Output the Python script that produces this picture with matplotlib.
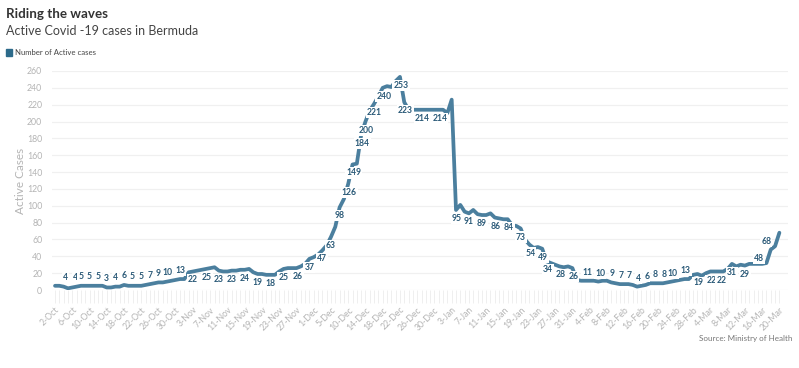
import matplotlib
matplotlib.use("Agg")
import matplotlib.pyplot as plt
import numpy as np

# ---------------- data ----------------
tick_labels = ['2-Oct', '6-Oct', '10-Oct', '14-Oct', '18-Oct', '22-Oct', '26-Oct', '30-Oct',
               '3-Nov', '7-Nov', '11-Nov', '15-Nov', '19-Nov', '23-Nov', '27-Nov',
               '1-Dec', '5-Dec', '10-Dec', '14-Dec', '18-Dec', '22-Dec', '26-Dec', '30-Dec',
               '3-Jan', '7-Jan', '11-Jan', '15-Jan', '19-Jan', '23-Jan', '27-Jan', '31-Jan',
               '4-Feb', '8-Feb', '12-Feb', '16-Feb', '20-Feb', '24-Feb', '28-Feb',
               '4-Mar', '8-Mar', '12-Mar', '16-Mar', '20-Mar']

active_cases = [
    5, 5, 4, 2, 3, 4, 5, 5, 5, 5,            # 0-9
    5, 5, 3, 3, 4, 4, 6, 5, 5, 5,            # 10-19
    5, 6, 7, 8, 9, 9, 10, 11, 12, 13,        # 20-29
    13, 21, 22, 23, 24, 25, 26, 27, 23, 22,  # 30-39
    22, 23, 23, 24, 24, 25, 21, 19, 19, 18,  # 40-49
    18, 18, 22, 25, 26, 26, 26, 28, 31, 37,  # 50-59
    39, 42, 47, 53, 63, 75, 98, 108, 126, 149,  # 60-69
    150, 184, 200, 213, 221, 230, 240, 242, 241, 248,  # 70-79
    253, 223, 214, 214, 214, 214, 214, 214, 214, 214,  # 80-89
    214, 210, 226, 95, 101, 93, 91, 95, 90, 89,  # 90-99
    89, 91, 86, 85, 84, 84, 77, 76, 73, 60,   # 100-109
    54, 50, 51, 49, 34, 32, 30, 28, 27, 28,   # 110-119
    26, 12, 11, 11, 11, 11, 10, 11, 11, 9,    # 120-129
    8, 7, 7, 7, 6, 4, 5, 6, 8, 8,             # 130-139
    8, 8, 9, 10, 11, 12, 13, 13, 18, 19,      # 140-149
    17, 20, 22, 22, 22, 22, 25, 31, 28, 30,   # 150-159
    29, 31, 31, 31, 31, 32, 48, 52, 68,       # 160-168
]

label_idx = [2, 5, 6, 8, 10, 12, 14, 16, 18, 20, 22, 24, 26, 29,
             32, 35, 38, 41, 44, 47, 50, 53, 56, 59, 62, 64, 66, 68, 69, 71, 72, 74, 76,
             80, 81, 85, 89, 93, 96, 99, 102, 105, 108, 110, 113, 114, 117, 120,
             123, 126, 129, 131, 133, 135, 137, 139, 141, 143, 146,
             149, 152, 155, 157, 160, 166, 168]
# label placement (pixels): vertical and horizontal shift of each value label
label_dy = ([9] * 14) + ([-8.5] * 34) + ([8.5] * 11) + ([-9] * 7)
label_dx = [2, -1, 0, 0, 0, 0, 0, 0, 0, 0, 0, 0, 0, 0,
            0, 1, 0, 0, 0, 0, 0, 0, 1, 0, 0, 0, 0, 1, 1, 1, 1, 0, 1,
            1, 1, 1, 1, 1, 0, 0, 1, 1, 0, 1, 1, 1, 1, 1,
            2, 2, 1, 1, 1, 1, 1, 1, 1, 1, 1,
            1, 1, -2, 0, 0, -12, -13]

# ---------------- style ----------------
W, H = 799, 368
LINE = '#4b7f9e'
LABEL = '#2b5a78'
GREY_TXT = '#b4b4b4'
plt.rcParams['font.family'] = ['Lato', 'DejaVu Sans']

fig = plt.figure(figsize=(W / 100, H / 100), dpi=100)
fig.patch.set_facecolor('white')

# axes in pixel terms
ax_left, ax_right = 52, 788
ax_top, ax_bottom = 71, 290
ax = fig.add_axes([ax_left / W, 1 - ax_bottom / H, (ax_right - ax_left) / W, (ax_bottom - ax_top) / H])

x = np.arange(len(active_cases))
ax.plot(x, active_cases, color=LINE, lw=2.7, solid_joinstyle='round', solid_capstyle='round', zorder=3)

ax.set_ylim(0, 260)
ax.set_xlim(-0.7, 170.0)
ax.set_yticks(np.arange(0, 261, 20))
ax.yaxis.grid(True, color='#f0f0f0', lw=0.9)
ax.set_axisbelow(True)
for s in ax.spines.values():
    s.set_visible(False)
ax.tick_params(axis='y', length=0, labelsize=6.3, labelcolor=GREY_TXT, pad=7)

ax.set_xticks(np.arange(0, len(active_cases), 4))
ax.set_xticklabels(tick_labels, rotation=45, ha='right', rotation_mode='anchor')
ax.set_xticks(x, minor=True)
ax.tick_params(axis='x', which='major', length=9, color='#ececec', width=0.6,
               labelsize=6.3, labelcolor=GREY_TXT, pad=2)
ax.tick_params(axis='x', which='minor', length=9, color='#ececec', width=0.6)

ax.set_ylabel('Active Cases', color=GREY_TXT, fontsize=8.5, labelpad=1)

for i, dy, dx in zip(label_idx, label_dy, label_dx):
    v = active_cases[i]
    ax.annotate(str(v), xy=(i, v), xytext=(dx, dy), textcoords='offset pixels',
                ha='center', va='center', fontsize=6.2, fontweight='bold', color=LABEL,
                bbox=dict(boxstyle='square,pad=0.12', fc='white', ec='none'), zorder=4)

# titles and legend
fig.text(6 / W, 1 - 14 / H, 'Riding the waves', fontsize=9.6, fontweight='bold', color='#333333', va='center')
fig.text(6 / W, 1 - 31 / H, 'Active Covid -19 cases in Bermuda', fontsize=9.0, color='#444444', va='center')
fig.patches.append(plt.Rectangle((6 / W, 1 - 56 / H), 6 / W, 7 / H, transform=fig.transFigure,
                                 color='#2c6a8a', figure=fig))
fig.text(15 / W, 1 - 52.5 / H, 'Number of Active cases', fontsize=5.6, color='#444444', va='center')
fig.text(792 / W, 1 - 339 / H, 'Source: Ministry of Health', fontsize=5.8, color='#777777',
         va='center', ha='right')

fig.savefig('out.png', dpi=100, facecolor='white')
